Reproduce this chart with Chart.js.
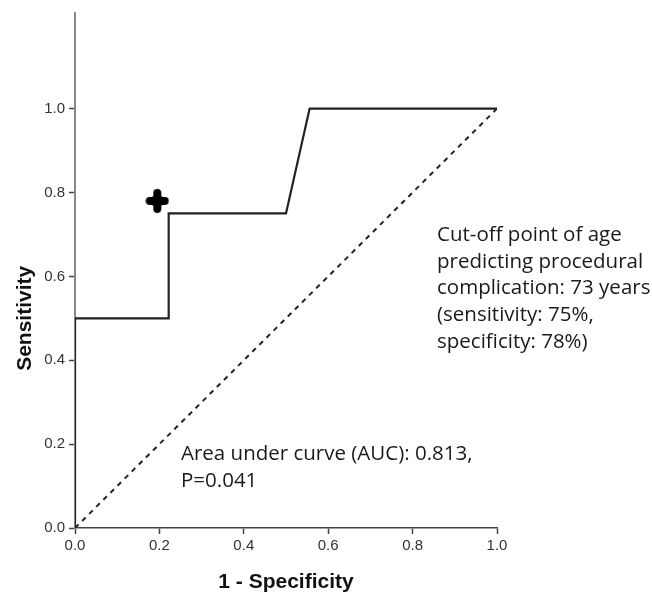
<!DOCTYPE html>
<html>
<head>
<meta charset="utf-8">
<script src="https://cdn.jsdelivr.net/npm/chart.js@4"></script>
<style>
  html, body { margin: 0; padding: 0; background: #fff; }
  #wrap { width: 652px; height: 598px; }
</style>
</head>
<body>
<div id="wrap"><canvas id="rocChart" width="652" height="598"></canvas></div>
<script>
// ROC curve steps (1 - specificity, sensitivity)
const rocX = [0, 0, 0.222, 0.222, 0.5, 0.556, 1.0];
const rocY = [0, 0.5, 0.5, 0.75, 0.75, 1.0, 1.0];
// reference diagonal
const refX = [0, 1];
const refY = [0, 1];
// cut-off point marker
const cutX = [0.195];
const cutY = [0.78];
const tickValues = [0, 0.2, 0.4, 0.6, 0.8, 1.0];

const aucLines = ['Area under curve (AUC): 0.813,', 'P=0.041'];
const cutLines = ['Cut-off point of age', 'predicting procedural', 'complication: 73 years',
                  '(sensitivity: 75%,', 'specificity: 78%)'];

function toPoints(xs, ys) {
    return xs.map((x, i) => ({ x: x, y: ys[i] }));
}

// bold plus marker
const marker = document.createElement('canvas');
marker.width = 24;
marker.height = 26;
(function () {
    const c = marker.getContext('2d');
    c.fillStyle = '#000';
    c.strokeStyle = '#000';
    c.lineCap = 'round';
    c.lineWidth = 8;
    c.beginPath();
    c.moveTo(12, 5); c.lineTo(12, 21);
    c.moveTo(4.5, 13); c.lineTo(19.5, 13);
    c.stroke();
    c.beginPath();
    c.arc(12, 13, 6.5, 0, Math.PI * 2);
    c.fill();
})();

const textPlugin = {
    id: 'rocText',
    afterDraw(chart) {
        const ctx = chart.ctx;
        const ys = chart.scales.y;
        ctx.save();
        // y axis title
        ctx.fillStyle = '#111';
        ctx.font = 'bold 21px "Liberation Sans", Arial, sans-serif';
        ctx.textAlign = 'center';
        ctx.textBaseline = 'middle';
        ctx.translate(25, (ys.getPixelForValue(0) + ys.getPixelForValue(1)) / 2);
        ctx.rotate(-Math.PI / 2);
        ctx.fillText('Sensitivity', 0, 0);
        ctx.restore();

        ctx.save();
        ctx.fillStyle = '#1a1a1a';
        ctx.font = '20.5px "Open Sans", sans-serif';
        ctx.textAlign = 'left';
        ctx.textBaseline = 'middle';
        aucLines.forEach((t, i) => ctx.fillText(t, 181, 454 + i * 27));
        cutLines.forEach((t, i) => ctx.fillText(t, 437, 235 + i * 26.7));
        ctx.restore();
    }
};

const ctx = document.getElementById('rocChart').getContext('2d');
const rocChart = new Chart(ctx, {
    type: 'scatter',
    data: {
        datasets: [{
            label: 'ROC',
            data: toPoints(rocX, rocY),
            showLine: true,
            borderColor: '#222',
            borderWidth: 2.2,
            pointRadius: 0,
            tension: 0
        }, {
            label: 'Reference',
            data: toPoints(refX, refY),
            showLine: true,
            borderColor: '#222',
            borderWidth: 2,
            borderDash: [5, 5],
            pointRadius: 0
        }, {
            label: 'Cut-off',
            data: toPoints(cutX, cutY),
            pointStyle: marker,
            pointRadius: 11
        }]
    },
    options: {
        responsive: false,
        animation: false,
        layout: { padding: { top: 10, right: 155, left: 0, bottom: 0 } },
        plugins: {
            legend: { display: false },
            tooltip: { enabled: false }
        },
        scales: {
            x: {
                type: 'linear',
                min: 0,
                max: 1,
                afterFit(scale) { scale.height = 70; },
                afterBuildTicks(scale) { scale.ticks = tickValues.map(v => ({ value: v })); },
                border: { color: '#444', width: 1.5 },
                grid: { drawOnChartArea: false, drawTicks: true, tickLength: 6, tickColor: '#444', tickWidth: 1.5 },
                ticks: {
                    color: '#333',
                    padding: 3,
                    font: { size: 15, family: '"Liberation Sans", Arial, sans-serif' },
                    callback: v => v.toFixed(1)
                },
                title: {
                    display: true,
                    text: '1 - Specificity',
                    color: '#111',
                    font: { size: 21, weight: 'bold', family: '"Liberation Sans", Arial, sans-serif' },
                    padding: { top: 0, bottom: 3 }
                }
            },
            y: {
                type: 'linear',
                min: 0,
                max: 1.228,
                afterFit(scale) { scale.width = 75; },
                afterBuildTicks(scale) { scale.ticks = tickValues.map(v => ({ value: v })); },
                border: { color: '#888', width: 2 },
                grid: { drawOnChartArea: false, drawTicks: true, tickLength: 6, tickColor: '#444', tickWidth: 1.5 },
                ticks: {
                    color: '#333',
                    padding: 4,
                    font: { size: 15, family: '"Liberation Sans", Arial, sans-serif' },
                    callback: v => v.toFixed(1)
                }
            }
        }
    },
    plugins: [textPlugin]
});
</script>
</body>
</html>
